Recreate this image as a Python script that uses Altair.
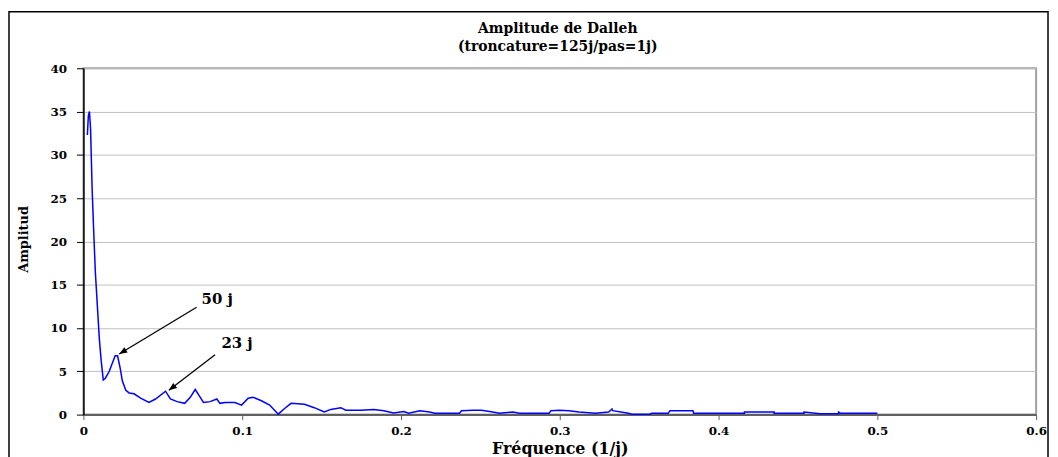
import altair as alt
import pandas as pd

freq = [0.0025, 0.0031, 0.0038, 0.0045, 0.0055, 0.0063, 0.0075, 0.0088, 0.0100, 0.0112,
        0.0125, 0.0138, 0.0163, 0.0183, 0.0200, 0.0215, 0.0230, 0.0245, 0.0267, 0.0288,
        0.0319, 0.0360, 0.0413, 0.0454, 0.0517, 0.0548, 0.0590, 0.0638, 0.0673, 0.0704,
        0.0729, 0.0756, 0.0798, 0.0840, 0.0860, 0.0892, 0.0954, 0.0996, 0.1038, 0.1069,
        0.1121, 0.1173, 0.1214, 0.1227, 0.1267, 0.1308, 0.1392, 0.1454, 0.1517, 0.1558,
        0.1621, 0.1652, 0.1746, 0.1829, 0.1892, 0.1954, 0.2017, 0.2048, 0.2119, 0.2181,
        0.2213, 0.2369, 0.2381, 0.2454, 0.2506, 0.2558, 0.2621, 0.2704, 0.2746, 0.2850,
        0.2933, 0.2944, 0.2996, 0.3058, 0.3121, 0.3225, 0.3308, 0.3329, 0.3333, 0.3433,
        0.3454, 0.3569, 0.3579, 0.3683, 0.3694, 0.3839, 0.3843, 0.3996, 0.4163, 0.4163,
        0.4350, 0.4350, 0.4538, 0.4538, 0.4640, 0.4756, 0.4756, 0.4769, 0.5000]
amp = [32.3, 34.5, 35.0, 33.0, 26.0, 22.0, 16.5, 12.5, 8.8, 6.2,
       4.0, 4.2, 5.0, 6.0, 6.8, 6.8, 5.5, 3.9, 2.8, 2.5,
       2.4, 1.9, 1.4, 1.8, 2.7, 1.8, 1.5, 1.3, 2.0, 2.9,
       2.2, 1.4, 1.5, 1.8, 1.3, 1.4, 1.4, 1.1, 1.9, 2.0,
       1.6, 1.1, 0.3, 0.05, 0.7, 1.3, 1.2, 0.8, 0.3, 0.6,
       0.8, 0.5, 0.5, 0.6, 0.45, 0.2, 0.35, 0.15, 0.45, 0.3,
       0.15, 0.15, 0.45, 0.5, 0.5, 0.35, 0.15, 0.3, 0.15, 0.15,
       0.15, 0.45, 0.5, 0.45, 0.3, 0.15, 0.3, 0.65, 0.45, 0.15,
       0.05, 0.05, 0.15, 0.15, 0.45, 0.45, 0.15, 0.15, 0.15, 0.3,
       0.3, 0.15, 0.15, 0.3, 0.1, 0.1, 0.3, 0.15, 0.15]

x_ticks = [0, 0.1, 0.2, 0.3, 0.4, 0.5, 0.6]
y_ticks = [0, 5, 10, 15, 20, 25, 30, 35, 40]

title_lines = ["Amplitude de Dalleh", "(troncature=125j/pas=1j)"]

# Annotations: label, text position, arrow start, arrow tip
ann_label = ["50 j", "23 j"]
ann_tx = [0.0744, 0.0869]
ann_ty = [13.3, 8.25]
arr_x0 = [0.0713, 0.0829]
arr_y0 = [12.4, 6.9]
arr_x1 = [0.0225, 0.0538]
arr_y1 = [7.0, 2.8]
arr_angle = [239, 232]

FONT = "DejaVu Serif"

df = pd.DataFrame({"f": freq, "a": amp, "i": list(range(len(freq)))})
ann = pd.DataFrame({"label": ann_label, "tx": ann_tx, "ty": ann_ty,
                    "x0": arr_x0, "y0": arr_y0, "x1": arr_x1, "y1": arr_y1,
                    "ang": arr_angle})

xscale = alt.Scale(domain=[0, 0.6], nice=False, zero=False)
yscale = alt.Scale(domain=[0, 40], nice=False)

line = alt.Chart(df).mark_line(color="#0000ff", strokeWidth=1.5).encode(
    x=alt.X("f:Q", scale=xscale,
            axis=alt.Axis(values=x_ticks, format="~g", title="Fréquence (1/j)",
                          grid=False, domainColor="#606060", domainWidth=2,
                          tickColor="#606060", tickSize=5, labelPadding=6,
                          labelFont=FONT, labelFontSize=12, labelFontWeight="bold",
                          labelColor="black", titleFont=FONT, titleFontSize=16,
                          titleFontWeight="bold", titleColor="black",
                          titleBaseline="top", titleY=26, labelFlush=False)),
    y=alt.Y("a:Q", scale=yscale,
            axis=alt.Axis(values=y_ticks, title="Amplitud", grid=True,
                          gridColor="#c0c0c0", gridWidth=1,
                          domainColor="black", domainWidth=1.5,
                          tickColor="black", tickSize=7, labelPadding=10,
                          labelFont=FONT, labelFontSize=12, labelFontWeight="bold",
                          labelColor="black", titleFont=FONT, titleFontSize=13,
                          titleFontWeight="bold", titleColor="black",
                          titleAngle=270, titleX=-60, titleY=172,
                          titleAlign="center", titleBaseline="middle")),
    order="i:Q",
)

rules = alt.Chart(ann).mark_rule(color="black", strokeWidth=1.3).encode(
    x="x0:Q", y="y0:Q", x2="x1:Q", y2="y1:Q")

heads = alt.Chart(ann).mark_point(
    shape="M0,0 L-0.4,1 L0.4,1 Z", filled=True, color="black", opacity=1, size=260
).encode(x="x1:Q", y="y1:Q", angle=alt.Angle("ang:Q", scale=None))

texts = alt.Chart(ann).mark_text(
    font=FONT, fontSize=15, fontWeight="bold", align="left", baseline="middle", color="black"
).encode(x="tx:Q", y="ty:Q", text="label:N")

title_df = pd.DataFrame({"t": title_lines, "row": [0, 1]})
title1 = alt.Chart(title_df).transform_filter("datum.row == 0").mark_text(
    font=FONT, fontSize=14, fontWeight="bold", align="center", baseline="middle", color="black"
).encode(x=alt.value(478), y=alt.value(-40), text="t:N")
title2 = alt.Chart(title_df).transform_filter("datum.row == 1").mark_text(
    font=FONT, fontSize=14, fontWeight="bold", align="center", baseline="middle", color="black"
).encode(x=alt.value(478), y=alt.value(-21), text="t:N")

frame_df = pd.DataFrame({"k": [0]})
frame = alt.Chart(frame_df).mark_rect(fill=None, stroke="black", strokeWidth=1.5).encode(
    x=alt.value(-75), x2=alt.value(972), y=alt.value(-57), y2=alt.value(420))

chart = alt.layer(frame, line, rules, heads, texts, title1, title2).properties(
    width=960, height=349,
    autosize=alt.AutoSizeParams(type="none"),
    padding={"left": 76, "top": 59, "right": 14, "bottom": 41},
).configure_view(stroke="#a0a0a0", strokeWidth=2)

chart.save("out.html", embed_options={"renderer": "svg", "actions": False})
